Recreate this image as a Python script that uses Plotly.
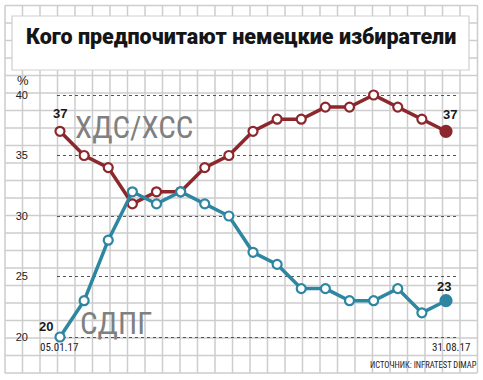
import plotly.graph_objects as go

W, H = 483, 380

# ---- data ----
poll_index = list(range(17))
cdu_csu = [37, 35, 34, 31, 32, 32, 34, 35, 37, 38, 38, 39, 39, 40, 39, 38, 37]
spd = [20, 23, 28, 32, 31, 32, 31, 30, 27, 26, 24, 24, 23, 23, 24, 22, 23]
first_date, last_date = "05.01.17", "31.08.17"
y_ticks = [20, 25, 30, 35, 40]
title_text = "Кого предпочитают немецкие избиратели"
source_text = "ИСТОЧНИК: INFRATEST DIMAP"

RED = "#8c272d"
BLUE = "#2e86a1"
GRID = "#cdcdcd"
NARROW = "Noto Sans Condensed, Liberation Sans Narrow, Roboto Condensed, DejaVu Sans Condensed, Roboto, sans-serif"
BOLD = "Liberation Sans, Arial, sans-serif"


def px(x):
    return x / W


def py(y):
    return 1 - y / H


fig = go.Figure()

n = len(poll_index)
for vals, col in ((cdu_csu, RED), (spd, BLUE)):
    fig.add_trace(go.Scatter(
        x=poll_index, y=vals, mode="lines+markers",
        line=dict(color=col, width=3.5),
        marker=dict(size=[9] * (n - 1) + [11], color=["white"] * (n - 1) + [col],
                    line=dict(color=col, width=2.2), opacity=1),
        cliponaxis=False, hoverinfo="skip", showlegend=False))

# ---- decorative background grid (one path) ----
step = 17.5
parts = []
for k in range(28):
    x = 5 + step * k
    parts.append(f"M{px(x):.5f},{py(5.5):.5f} L{px(x):.5f},{py(373):.5f}")
for k in range(22):
    y = 5.5 + step * k
    parts.append(f"M{px(5):.5f},{py(y):.5f} L{px(477.5):.5f},{py(y):.5f}")
shapes = [
    dict(type="path", xref="paper", yref="paper", path=" ".join(parts),
         line=dict(color=GRID, width=1.5), layer="below"),
    dict(type="rect", xref="paper", yref="paper",
         x0=px(12), x1=px(469), y0=py(16), y1=py(70),
         fillcolor="white", line=dict(color="#cfcfcf", width=1.2), layer="below"),
]


def note(text, x, y, size, family, color="#1a1a1a", **kw):
    d = dict(text=text, x=x, y=y, showarrow=False, xanchor="center", yanchor="middle",
             font=dict(family=family, size=size, color=color))
    d.update(kw)
    if "xref" not in d:
        d["xref"] = "paper"
        d["yref"] = "paper"
    return d


annotations = [
    note(title_text, px(241), py(37), 21.5, "Roboto, sans-serif", color="#151515"),
    note("%", px(23), py(80), 13, BOLD, color="#222"),
    note("ХДС/ХСС", px(134), py(128), 31, NARROW, color="#808080"),
    note("СДПГ", px(116), py(323), 31, NARROW, color="#808080"),
    note(f"<b>{cdu_csu[0]}</b>", poll_index[0], cdu_csu[0], 13, BOLD,
         xref="x", yref="y", yshift=18),
    note(f"<b>{cdu_csu[-1]}</b>", poll_index[-1], cdu_csu[-1], 13, BOLD,
         xref="x", yref="y", yshift=17, xshift=4),
    note(f"<b>{spd[0]}</b>", poll_index[0], spd[0], 13, BOLD,
         xref="x", yref="y", yshift=11, xshift=-14),
    note(f"<b>{spd[-1]}</b>", poll_index[-1], spd[-1], 13, BOLD,
         xref="x", yref="y", yshift=14, xshift=-2),
    note(first_date, poll_index[0], spd[0], 11, NARROW, color="#222",
         xref="x", yref="y", yshift=-10, xshift=-1),
    note(last_date, poll_index[-1], y_ticks[0], 11, NARROW, color="#222",
         xref="x", yref="y", yshift=-10, xshift=5),
    note(source_text, px(423), py(365), 8.5, NARROW, color="#222"),
]
annotations[0]["font"]["weight"] = 900

# map index -> pixel: 60 + 24.125*i ; value -> pixel: 337 - 12.1*(v-20)
dx, x_first = 24.125, 60
dom_l, dom_r = 57, 459
xr = [(dom_l - x_first) / dx, (dom_r - x_first) / dx]
dy, y20 = 12.1, 337
yr = [20 - (H - y20) / dy, 20 + y20 / dy]

fig.update_layout(
    width=W, height=H, margin=dict(l=0, r=0, t=0, b=0),
    paper_bgcolor="white", plot_bgcolor="rgba(0,0,0,0)",
    xaxis=dict(range=xr, domain=[px(dom_l), px(dom_r)], visible=False, fixedrange=True),
    yaxis=dict(range=yr, domain=[0, 1], tickvals=y_ticks, showgrid=True, griddash="dot",
               gridcolor="#555", gridwidth=1, zeroline=False, showline=False, ticks="",
               ticklabelstandoff=28, tickfont=dict(family=BOLD, size=11, color="#222"),
               fixedrange=True),
    shapes=shapes, annotations=annotations,
)

fig.write_html("out.html")
